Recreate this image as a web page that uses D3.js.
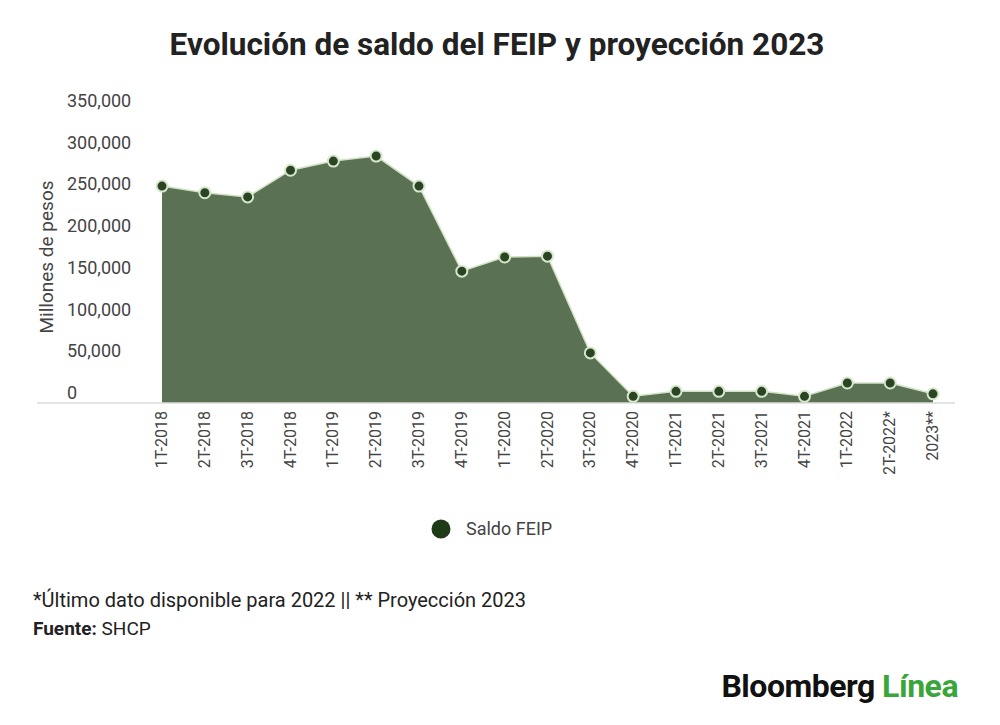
<!doctype html>
<html>
<head>
<meta charset="UTF-8">
<script src="https://d3js.org/d3.v7.min.js"></script>
<style>body{margin:0;background:#fff;font-family:Roboto,"Noto Sans",sans-serif;}</style>
</head>
<body>
<svg width="1000" height="725" id="chart"></svg>
<script>
var categories = ["1T-2018","2T-2018","3T-2018","4T-2018","1T-2019","2T-2019","3T-2019","4T-2019","1T-2020","2T-2020","3T-2020","4T-2020","1T-2021","2T-2021","3T-2021","4T-2021","1T-2022","2T-2022*","2023**"];
var saldo = [260000,252000,247000,279000,290000,296000,260000,158000,175000,176000,60000,8000,14000,14000,14000,8000,24000,24000,11000];
var yTicks = [0,50000,100000,150000,200000,250000,300000,350000];

var svg = d3.select("#chart");
var x = d3.scalePoint().domain(categories).range([162, 933]);
var y = d3.scaleLinear().domain([0, 350000]).range([403, 111]);

svg.append("text").attr("x", 497).attr("y", 55).attr("text-anchor", "middle")
  .attr("font-size", 31.5).attr("font-weight", "bold").attr("fill", "#222")
  .text("Evolución de saldo del FEIP y proyección 2023");

svg.selectAll(".yl").data(yTicks).enter().append("text")
  .attr("x", 67).attr("y", function(d){ return y(d) - 4; })
  .attr("font-size", 18).attr("fill", "#444")
  .text(function(d){ return d3.format(",")(d); });

svg.append("text").attr("transform", "translate(53,257) rotate(-90)")
  .attr("text-anchor", "middle").attr("font-size", 19).attr("fill", "#444")
  .text("Millones de pesos");

var area = d3.area().x(function(d,i){ return x(categories[i]); })
  .y0(y(0)).y1(function(d){ return y(d); });
svg.append("path").datum(saldo).attr("d", area).attr("fill", "#5b7153");
var line = d3.line().x(function(d,i){ return x(categories[i]); }).y(function(d){ return y(d); });
svg.append("path").datum(saldo).attr("d", line).attr("fill", "none")
  .attr("stroke", "#cfe3c4").attr("stroke-width", 1.5);

svg.append("line").attr("x1", 37).attr("x2", 955).attr("y1", y(0)).attr("y2", y(0))
  .attr("stroke", "#ddd").attr("stroke-width", 1.5);

svg.selectAll(".pt").data(saldo).enter().append("circle")
  .attr("cx", function(d,i){ return x(categories[i]); })
  .attr("cy", function(d){ return y(d); })
  .attr("r", 5.5).attr("fill", "#2b4524").attr("stroke", "#d6e8cc").attr("stroke-width", 2);

svg.selectAll(".xl").data(categories).enter().append("text")
  .attr("transform", function(d){ return "translate(" + (x(d) + 5) + ",411) rotate(-90)"; })
  .attr("text-anchor", "end").attr("font-size", 16).attr("fill", "#444")
  .text(function(d){ return d; });

svg.append("circle").attr("cx", 441).attr("cy", 529).attr("r", 9.5).attr("fill", "#1f3a17");
svg.append("text").attr("x", 466).attr("y", 535).attr("font-size", 18).attr("fill", "#444").text("Saldo FEIP");

svg.append("text").attr("x", 33).attr("y", 607).attr("font-size", 20).attr("fill", "#222")
  .text("*Último dato disponible para 2022 || ** Proyección 2023");
var f = svg.append("text").attr("x", 33).attr("y", 635).attr("font-size", 19).attr("fill", "#222");
f.append("tspan").attr("font-weight", "bold").text("Fuente:");
f.append("tspan").text(" SHCP");

var b = svg.append("text").attr("x", 958).attr("y", 697).attr("text-anchor", "end")
  .attr("font-size", 32).attr("font-weight", "bold").attr("letter-spacing", "-0.5");
b.append("tspan").attr("fill", "#111").text("Bloomberg ");
b.append("tspan").attr("fill", "#3aa63a").text("Línea");
</script>
</body>
</html>
